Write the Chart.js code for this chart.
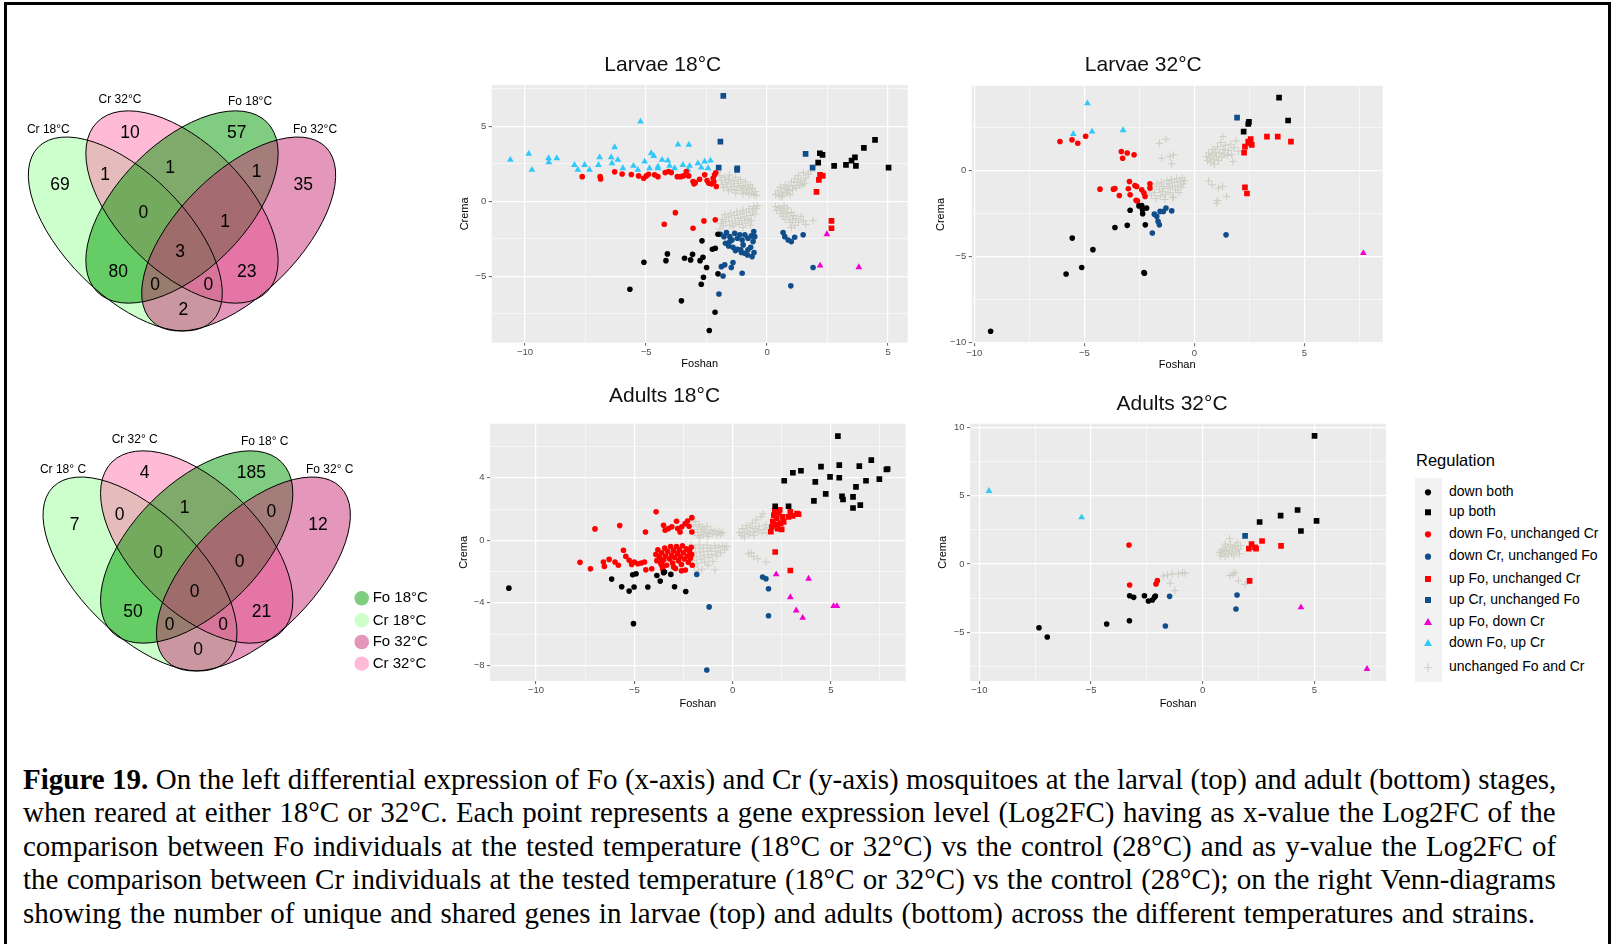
<!DOCTYPE html>
<html>
<head>
<meta charset="utf-8">
<script src="https://cdn.jsdelivr.net/npm/chart.js@4.4.1/dist/chart.umd.min.js"></script>
<style>
  body { margin: 0; width: 1616px; height: 944px; background: #fff; position: relative; overflow: hidden; font-family: 'Liberation Sans', Arial, sans-serif; }
  .frame { position: absolute; left: 4px; top: 2px; width: 1601px; height: 980px; border: 3px solid #000; border-bottom: none; }
  canvas { position: absolute; }
  .caption { position: absolute; left: 23px; top: 762.6px; font-family: 'Liberation Serif', 'Times New Roman', serif; font-size: 29px; line-height: 33.6px; color: #000; }
  .caption .ln { white-space: nowrap; transform-origin: 0 50%; }
  .caption .ln span { display: inline-block; }
  #reg { position: absolute; left: 1390px; top: 440px; }
</style>
</head>
<body>
<div class="frame"></div>
<svg id="reg" width="226" height="260"></svg>
<div class="caption">
  <div class="ln"><span><b>Figure 19.</b> On the left differential expression of Fo (x-axis) and Cr (y-axis) mosquitoes at the larval (top) and adult (bottom) stages,</span></div>
  <div class="ln"><span>when reared at either 18°C or 32°C. Each point represents a gene expression level (Log2FC) having as x-value the Log2FC of the</span></div>
  <div class="ln"><span>comparison between Fo individuals at the tested temperature (18°C or 32°C) vs the control (28°C) and as y-value the Log2FC of</span></div>
  <div class="ln"><span>the comparison between Cr individuals at the tested temperature (18°C or 32°C) vs the control (28°C); on the right Venn-diagrams</span></div>
  <div class="ln"><span>showing the number of unique and shared genes in larvae (top) and adults (bottom) across the different temperatures and strains.</span></div>
</div>
<script>
// ---------------- data ----------------
// venn regions: Cr18, Cr32, Fo18, Fo32, Cr18&Cr32, Cr32&Fo18, Fo18&Fo32, Cr18&Cr32&Fo18, Cr32&Fo18&Fo32,
// all four, Cr18&Fo18, Cr32&Fo32, Cr18&Fo18&Fo32, Cr18&Cr32&Fo32, Cr18&Fo32
const larvaeCounts = [69, 10, 57, 35, 1, 1, 1, 0, 1, 3, 80, 23, 0, 0, 2];
const adultCounts = [7, 4, 185, 12, 0, 1, 0, 0, 0, 0, 50, 21, 0, 0, 0];
const larvaeSetNames = ['Cr 18°C', 'Cr 32°C', 'Fo 18°C', 'Fo 32°C'];
const adultSetNames = ['Cr 18° C', 'Cr 32° C', 'Fo 18° C', 'Fo 32° C'];
const vennLegendNames = ['Fo 18°C', 'Cr 18°C', 'Fo 32°C', 'Cr 32°C'];

const regulationLabels = ['down both', 'up both', 'down Fo, unchanged Cr', 'down Cr, unchanged Fo',
  'up Fo, unchanged Cr', 'up Cr, unchanged Fo', 'up Fo, down Cr', 'down Fo, up Cr', 'unchanged Fo and Cr'];

// Larvae 18°C  [Foshan, Crema]
const l18DownBoth = [[-5.67,-5.87],[-5.09,-4.07],[-4.18,-3.96],[-4.12,-3.51],[-3.54,-6.64],[-3.41,-3.8],[-3.16,-3.91],[-3.08,-3.53],[-2.77,-3.96],[-2.69,-2.64],[-2.65,-3.73],[-2.63,-5.07],[-2.72,-5.53],[-2.5,-4.42],[-2.26,-3.2],[-2.14,-3.13],[-2.15,-7.4],[-2.39,-8.62],[-2.03,-4.84],[-2.03,-2.2]];
const l18UpBoth = [[2.11,2.58],[2.18,3.2],[2.29,3.09],[2.77,2.36],[3.26,2.42],[3.49,2.71],[3.63,2.93],[3.67,2.36],[4.0,3.56],[4.46,4.09],[5.02,2.24]];
const l18DownFo = [[-7.64,1.64],[-6.9,1.64],[-6.88,1.49],[-6.3,1.96],[-5.99,1.82],[-5.61,1.78],[-5.31,1.69],[-5.1,1.53],[-4.99,1.69],[-4.9,1.8],[-4.65,1.76],[-4.51,1.64],[-4.21,1.91],[-4.07,1.98],[-3.96,1.91],[-3.71,1.64],[-3.57,1.64],[-3.46,1.69],[-3.34,1.98],[-3.24,1.69],[-3.06,1.31],[-3.02,1.16],[-2.97,1.24],[-2.79,1.47],[-2.58,1.76],[-2.48,1.38],[-2.41,1.2],[-2.3,1.16],[-2.23,1.53],[-2.17,1.76],[-2.1,0.98],[-2.2,1.3],[-2.12,1.9],[-4.25,-1.53],[-3.79,-0.76],[-3.06,-1.8],[-2.61,-1.31],[-2.14,-1.24]];
const l18DownCr = [[-1.99,-6.18],[-1.82,-4.98],[-1.89,-4.36],[-1.75,-4.24],[-1.48,-4.42],[-1.41,-4.09],[-1.03,-4.8],[0.98,-5.64],[1.9,-4.42],[0.73,-2.36],[0.87,-2.58],[1.0,-2.69],[1.14,-2.4],[1.49,-2.24],[0.66,-2.09],
  [-1.93,-2.2],[-1.68,-2.09],[-1.54,-2.36],[-1.45,-2.58],[-1.34,-2.13],[-1.23,-2.47],[-1.13,-2.24],[-1.03,-2.58],[-0.92,-2.24],[-0.79,-2.47],[-0.65,-2.31],[-0.55,-2.02],[-0.58,-2.69],[-0.68,-3.07],[-0.79,-3.24],[-0.92,-3.47],[-1.09,-3.24],[-1.23,-3.2],[-1.41,-3.07],[-1.59,-2.98],[-1.72,-2.8],[-1.54,-2.69],[-0.99,-2.91],[-0.62,-3.69],[-0.54,-3.42],[-0.81,-3.58],[-1.06,-3.42],[-1.31,-3.29],[-1.78,-2.36],[-0.51,-2.36]];
const l18UpFo = [[2.04,0.62],[2.14,1.42],[2.19,1.76],[2.3,1.69],[2.66,-1.31],[2.66,-1.8]];
const l18UpCr = [[-1.81,7.02],[-1.93,3.98],[-2.0,2.24],[-1.24,2.09],[-1.23,2.2],[1.59,3.16],[1.88,2.24]];
const l18UpFoDownCr = [[2.47,-2.2],[2.19,-4.29],[3.79,-4.4]];
const l18DownFoUpCr = [[-10.61,2.76],[-9.85,3.16],[-9.72,2.09],[-9.03,2.87],[-9.02,2.6],[-8.69,2.87],[-7.96,2.42],[-7.82,2.09],[-7.54,2.42],[-7.34,2.09],[-6.92,2.93],[-6.97,2.42],[-6.44,2.93],[-6.41,2.53],[-6.3,3.6],[-6.17,2.76],[-5.96,2.2],[-5.52,2.36],[-5.34,2.09],[-5.23,5.31],[-5.06,2.64],[-4.86,2.2],[-4.79,3.2],[-4.68,3.02],[-4.51,2.31],[-4.34,2.76],[-4.1,2.71],[-4.03,2.36],[-3.68,3.78],[-3.48,2.42],[-3.23,3.76],[-3.2,2.36],[-2.86,2.53],[-2.72,2.24],[-2.58,2.64],[-2.34,2.71],[-2.44,2.2],[-4.51,2.2],[-3.82,2.2],[-3.27,2.09]];
const l18Unchanged = [[-2.05,1.95],[-1.95,1.7],[-1.9,1.4],[-1.85,1.1],[-1.8,0.9],[-1.75,1.6],[-1.7,1.25],[-1.65,0.95],[-1.6,1.45],[-1.55,1.75],[-1.5,1.15],[-1.45,0.8],[-1.4,1.35],[-1.35,1.0],[-1.3,1.6],[-1.25,0.75],[-1.2,1.2],[-1.15,0.95],[-1.1,1.45],[-1.05,0.7],[-1.0,1.05],[-0.95,0.85],[-0.9,1.3],[-0.85,0.6],[-0.8,0.95],[-0.75,0.75],[-0.7,1.1],[-0.65,0.55],[-0.6,0.85],[-0.55,0.45],[-0.5,0.65],[-0.45,0.4],[-1.6,0.7],[-1.3,0.55],[-1.0,0.5],[-0.75,0.45],
  [-1.95,-1.85],[-1.9,-1.5],[-1.85,-1.2],[-1.8,-1.65],[-1.75,-0.9],[-1.7,-1.35],[-1.6,-1.05],[-1.55,-1.6],[-1.5,-0.8],[-1.45,-1.3],[-1.4,-1.7],[-1.35,-0.95],[-1.3,-1.45],[-1.25,-0.7],[-1.2,-1.15],[-1.15,-1.55],[-1.1,-0.85],[-1.05,-1.3],[-1.0,-0.6],[-0.95,-1.05],[-0.9,-1.45],[-0.85,-0.75],[-0.8,-1.2],[-0.75,-0.5],[-0.7,-0.95],[-0.65,-1.3],[-0.6,-0.65],[-0.55,-0.35],[-0.5,-0.85],[-0.45,-0.5],[-0.4,-0.3],[-1.0,-1.75],[-0.7,-1.6],
  [0.35,0.45],[0.45,0.7],[0.5,0.35],[0.55,0.95],[0.6,0.6],[0.65,0.4],[0.7,0.85],[0.75,1.1],[0.8,0.55],[0.85,0.75],[0.9,1.0],[0.95,0.45],[1.0,1.3],[1.05,0.8],[1.1,1.05],[1.15,1.5],[1.2,0.9],[1.25,1.25],[1.3,1.7],[1.35,1.05],[1.4,1.4],[1.5,1.9],[1.55,1.2],[1.6,1.55],[1.7,1.8],[1.8,2.0],[0.6,0.3],[0.9,0.7],[1.45,1.1],
  [0.35,-0.35],[0.4,-0.6],[0.5,-0.4],[0.55,-0.8],[0.6,-0.5],[0.65,-1.0],[0.7,-0.65],[0.75,-1.2],[0.8,-0.8],[0.85,-0.45],[0.9,-1.05],[0.95,-1.4],[1.0,-0.75],[1.05,-1.25],[1.1,-0.95],[1.15,-1.6],[1.2,-1.15],[1.3,-1.4],[1.4,-1.0],[1.5,-1.3],[1.6,-1.55],[1.9,-1.3],[0.7,-0.3],[1.0,-1.75]];

// Larvae 32°C
const l32DownBoth = [[-9.26,-9.34],[-5.83,-6.02],[-5.12,-5.64],[-5.55,-3.94],[-4.61,-4.61],[-3.61,-3.32],[-3.05,-3.2],[-2.92,-2.32],[-2.52,-2.07],[-2.35,-2.53],[-2.36,-2.3],[-2.23,-3.17],[-2.29,-5.93],[-2.17,-2.2],[-2.39,-2.05],[-2.27,-5.98]];
const l32UpBoth = [[3.85,4.21],[4.26,2.88],[2.48,2.8],[2.45,2.68],[2.24,2.24]];
const l32DownFo = [[-6.11,1.66],[-5.56,1.76],[-5.3,1.56],[-4.94,1.97],[-3.32,1.08],[-3.26,0.69],[-3.05,1.0],[-2.74,0.89],[-4.29,-1.1],[-3.68,-1.1],[-3.61,-1.06],[-3.41,-1.47],[-2.95,-0.66],[-3.0,-1.08],[-2.92,-1.43],[-2.7,-0.89],[-2.62,-0.95],[-2.59,-1.78],[-2.39,-1.14],[-2.29,-1.33],[-2.24,-1.53],[-2.02,-0.79],[-2.02,-1.04],[-2.65,-1.75]];
const l32DownCr = [[-1.91,-3.65],[-1.82,-2.55],[-1.71,-2.68],[-1.65,-2.97],[-1.59,-3.17],[-1.56,-2.39],[-1.41,-2.39],[-1.29,-2.2],[-1.03,-2.36],[1.44,-3.75]];
const l32UpFo = [[2.26,1.02],[2.3,1.37],[2.45,1.66],[2.56,1.8],[2.61,1.47],[2.53,1.56],[3.3,1.95],[3.79,1.95],[4.39,1.66],[2.3,-1.0],[2.39,-1.35]];
const l32UpCr = [[1.94,3.05]];
const l32UpFoDownCr = [[7.68,-4.81]];
const l32DownFoUpCr = [[-4.86,3.88],[-5.5,2.1],[-4.65,2.24],[-3.24,2.32]];
const l32Unchanged = [[-2.05,-1.2],[-1.95,-1.45],[-1.9,-0.95],[-1.8,-1.3],[-1.75,-1.65],[-1.7,-0.8],[-1.6,-1.1],[-1.55,-1.5],[-1.5,-0.7],[-1.45,-1.25],[-1.4,-0.95],[-1.3,-1.4],[-1.25,-0.6],[-1.2,-1.05],[-1.15,-0.8],[-1.1,-1.3],[-1.05,-0.55],[-1.0,-0.95],[-0.95,-1.55],[-0.9,-0.7],[-0.85,-1.15],[-0.8,-0.5],[-0.75,-0.9],[-0.7,-1.3],[-0.65,-0.65],[-0.6,-1.0],[-0.55,-0.45],[-0.5,-0.8],[-0.45,-0.6],[-1.35,-1.7],[-1.0,-1.6],
  [-1.59,1.56],[-1.29,1.8],[-1.48,0.69],[-1.11,0.79],[-0.95,0.89],[-1.03,0.37],
  [0.55,0.8],[0.6,0.55],[0.65,1.0],[0.7,0.7],[0.75,0.45],[0.8,0.9],[0.85,1.2],[0.9,0.6],[0.95,1.05],[1.0,0.8],[1.05,1.35],[1.1,0.55],[1.15,1.0],[1.2,1.6],[1.25,0.75],[1.3,1.2],[1.35,0.95],[1.4,1.45],[1.5,0.85],[1.55,1.15],[1.65,1.5],[1.7,0.9],[1.8,1.3],[1.9,1.7],[2.0,1.1],[1.3,1.95],[1.75,0.5],[0.9,0.35],
  [0.65,-0.62],[0.8,-0.85],[1.09,-1.04],[1.29,-0.95],[1.47,-1.53],[1.02,-1.91],[1.06,-1.76]];

// Adults 18°C
const a18DownBoth = [[-11.38,-3.06],[-6.15,-2.48],[-5.64,-2.97],[-5.26,-3.25],[-5.01,-2.99],[-5.04,-5.33],[-5.08,-2.2],[-4.91,-2.14],[-4.31,-2.99],[-3.85,-2.25],[-3.68,-2.61],[-3.51,-2.07],[-3.46,-2.03],[-3.14,-2.18],[-2.95,-2.97],[-2.38,-3.27]];
const a18UpBoth = [[5.36,6.67],[2.17,2.18],[2.85,2.18],[2.63,3.81],[3.07,4.32],[3.48,4.45],[4.21,3.74],[4.14,2.52],[4.5,4.71],[4.74,2.97],[4.96,4.06],[5.43,4.81],[5.43,4.0],[5.57,2.82],[5.62,2.61],[6.13,2.78],[6.13,2.07],[6.28,3.42],[6.45,4.75],[6.5,2.25],[6.79,3.81],[7.06,5.13],[7.47,3.91],[7.83,4.53],[7.89,4.56]];
const a18DownFo = [[-7.76,-1.41],[-7.23,-1.82],[-7.0,0.73],[-5.74,0.94],[-4.43,0.53],[-3.89,1.82],[-6.57,-1.39],[-6.52,-1.67],[-6.28,-1.22],[-5.98,-1.39],[-5.81,-1.6],[-5.55,-0.64],[-5.43,-1.03],[-5.26,-1.28],[-5.13,-1.54],[-5.0,-1.39],[-4.82,-1.5],[-4.65,-1.45],[-4.48,-1.39],[-4.41,-1.88],[-4.11,-1.82],[-3.74,-1.0],[-3.6,-1.39],[-3.57,-1.67],[-3.51,0.96],[-3.43,0.64],[-3.26,0.75],[-3.09,0.86],[-2.85,1.22],[-2.79,0.75],[-2.58,0.86],[-2.41,1.07],[-2.29,1.24],[-2.21,0.9],[-2.07,1.45],[-2.07,0.53],[-2.67,0.53],
  [-3.9,-0.9],[-3.85,-1.3],[-3.8,-0.6],[-3.7,-1.1],[-3.65,-1.5],[-3.6,-0.8],[-3.5,-1.25],[-3.45,-0.5],[-3.4,-1.0],[-3.35,-1.6],[-3.3,-0.7],[-3.2,-1.2],[-3.15,-0.4],[-3.1,-0.95],[-3.05,-1.45],[-3.0,-0.65],[-2.95,-1.1],[-2.9,-1.8],[-2.85,-0.4],[-2.8,-0.85],[-2.75,-1.3],[-2.7,-0.6],[-2.65,-1.05],[-2.6,-1.55],[-2.55,-0.35],[-2.5,-0.8],[-2.45,-1.2],[-2.4,-1.9],[-2.35,-0.55],[-2.3,-1.0],[-2.25,-1.4],[-2.2,-0.7],[-2.15,-1.15],[-2.1,-0.45],[-2.08,-0.9],[-2.05,-1.6],[-2.6,-1.95],[-3.55,-1.85],[-3.0,-1.7]];
const a18DownCr = [[-1.82,-2.18],[-1.31,-8.3],[-1.19,-4.26],[1.53,-2.35],[1.7,-2.46],[1.83,-3.1],[1.83,-4.83]];
const a18UpFo = [[1.95,0.55],[2.0,0.85],[2.05,1.2],[2.1,1.6],[2.15,1.9],[2.2,1.0],[2.25,1.4],[2.3,0.75],[2.35,1.75],[2.4,1.95],[2.45,1.1],[2.5,0.7],[2.55,1.5],[2.6,1.18],[2.94,1.82],[3.06,1.56],[3.28,1.71],[3.36,1.67],[2.17,-0.75],[2.94,-1.93],[2.85,1.5]];
const a18UpCr = [];
const a18UpFoDownCr = [[2.22,-2.18],[2.94,-3.64],[3.24,-4.49],[3.57,-4.96],[3.87,-2.46],[5.14,-4.21],[5.31,-4.21]];
const a18DownFoUpCr = [];
const a18Unchanged = [[-2.1,1.4],[-2.0,0.9],[-1.95,0.5],[-1.9,1.2],[-1.8,0.7],[-1.75,0.3],[-1.7,1.0],[-1.6,0.55],[-1.55,0.85],[-1.5,0.35],[-1.45,0.7],[-1.35,0.5],[-1.3,0.9],[-1.2,0.4],[-1.1,0.65],[-1.0,0.45],[-0.9,0.6],[-0.8,0.35],[-0.7,0.55],[-0.6,0.4],[-0.5,0.5],[-1.65,0.2],[-1.25,0.25],
  [-2.1,-0.3],[-2.05,-0.8],[-2.0,-1.3],[-1.95,-1.7],[-1.9,-0.5],[-1.85,-1.05],[-1.8,-1.5],[-1.7,-0.3],[-1.65,-0.75],[-1.6,-1.2],[-1.55,-1.85],[-1.5,-0.5],[-1.45,-0.95],[-1.4,-1.4],[-1.3,-0.3],[-1.25,-0.7],[-1.2,-1.1],[-1.1,-0.5],[-1.05,-0.9],[-1.0,-1.35],[-0.9,-0.35],[-0.85,-0.7],[-0.8,-1.0],[-0.7,-0.45],[-0.6,-0.8],[-0.5,-0.35],[-0.4,-0.6],[-0.3,-0.4],[-0.9,-1.9],[-1.25,-1.6],[-1.75,-1.95],
  [0.35,0.5],[0.45,0.3],[0.5,0.75],[0.6,0.45],[0.7,0.95],[0.75,0.6],[0.85,0.35],[0.9,0.8],[1.0,1.1],[1.05,0.5],[1.15,0.75],[1.2,1.3],[1.3,0.6],[1.35,0.9],[1.45,1.5],[1.5,0.45],[1.6,0.7],[1.7,1.0],[1.75,0.5],[1.85,0.8],[1.55,1.7],[0.6,0.2],[1.1,0.3],
  [0.81,-0.86],[1.07,-1.03],[1.29,-1.18],[1.7,-1.39],[0.95,-0.8]];

// Adults 32°C
const a32DownBoth = [[-7.33,-4.66],[-6.96,-5.34],[-4.3,-4.39],[-3.28,-4.15],[-3.27,-2.32],[-3.09,-2.44],[-2.61,-2.32],[-2.43,-2.71],[-2.25,-2.63],[-2.16,-2.44],[-2.12,-2.34]];
const a32UpBoth = [[5.01,9.37],[2.55,3.07],[3.49,3.54],[4.25,3.95],[4.4,2.41],[5.1,3.15]];
const a32DownFo = [[-3.3,1.39],[-3.27,-1.54],[-2.09,-1.46],[-2.03,-1.22]];
const a32DownCr = [[-1.48,-2.37],[-1.67,-4.54],[1.54,-2.27],[1.49,-3.29]];
const a32UpFo = [[2.07,1.12],[2.19,1.46],[2.34,1.22],[2.39,1.12],[2.66,1.68],[3.51,1.32],[2.1,-1.24]];
const a32UpCr = [[1.9,2.05]];
const a32UpFoDownCr = [[4.4,-3.17],[7.36,-7.68]];
const a32DownFoUpCr = [[-9.57,5.34],[-5.42,3.41]];
const a32Unchanged = [[-1.76,-0.88],[-1.58,-0.8],[-1.46,-1.41],[-1.36,-0.73],[-1.24,-1.95],[-1.09,-0.73],[-0.9,-0.63],[-0.79,-0.68],
  [0.75,0.85],[0.8,0.6],[0.85,1.0],[0.9,0.75],[0.95,1.1],[1.0,0.55],[1.05,0.9],[1.1,1.25],[1.15,0.7],[1.2,1.0],[1.25,1.4],[1.3,0.8],[1.35,1.15],[1.4,0.6],[1.45,1.3],[1.5,0.95],[1.55,1.55],[1.6,1.1],[1.65,0.75],[1.7,1.35],[1.2,1.85],[1.0,1.45],
  [1.37,-0.76],[1.45,-0.63],[1.6,-1.24],[1.9,-1.49],[1.22,-0.85]];

// ---------------- look & layout ----------------
const FONT = "'Liberation Sans', Arial, sans-serif";
Chart.defaults.font.family = FONT;

const regulationStyles = [
  { shape: 'circle', r: 2.8, color: '#000000' },
  { shape: 'rect', r: 4.0, color: '#000000' },
  { shape: 'circle', r: 2.8, color: '#ff0000' },
  { shape: 'circle', r: 2.8, color: '#104e8b' },
  { shape: 'rect', r: 4.0, color: '#ff0000' },
  { shape: 'rect', r: 4.0, color: '#104e8b' },
  { shape: 'triangle', r: 3.9, color: '#f000d0' },
  { shape: 'triangle', r: 3.9, color: '#30c8fa' },
  { shape: 'cross', r: 3.8, color: '#cdcdc1' }
];

const panels = [
  { series: [l18DownBoth, l18UpBoth, l18DownFo, l18DownCr, l18UpFo, l18UpCr, l18UpFoDownCr, l18DownFoUpCr, l18Unchanged],
    L: 491.7, T: 85, R: 907.7, B: 342.7, title: 'Larvae 18°C', titleX: 662.8, titleY: 65, yTitleX: 465, xTitleY: 363.7,
    x: { min: -11.38, max: 5.81, step: 2.5, major: 5 }, y: { min: -9.43, max: 7.75, step: 2.5, major: 5 } },
  { series: [l32DownBoth, l32UpBoth, l32DownFo, l32DownCr, l32UpFo, l32UpCr, l32UpFoDownCr, l32DownFoUpCr, l32Unchanged],
    L: 971.7, T: 85.7, R: 1382.7, B: 343.3, title: 'Larvae 32°C', titleX: 1143.3, titleY: 65, yTitleX: 940.7, xTitleY: 365,
    x: { min: -10.12, max: 8.56, step: 2.5, major: 5 }, y: { min: -10.04, max: 4.9, step: 2.5, major: 5 } },
  { series: [a18DownBoth, a18UpBoth, a18DownFo, a18DownCr, a18UpFo, a18UpCr, a18UpFoDownCr, a18DownFoUpCr, a18Unchanged],
    L: 490, T: 423.7, R: 905.7, B: 681, title: 'Adults 18°C', titleX: 664.5, titleY: 396, yTitleX: 464, xTitleY: 704,
    x: { min: -12.34, max: 8.81, step: 2.5, major: 5 }, y: { min: -9.0, max: 7.46, step: 2, major: 4 } },
  { series: [a32DownBoth, a32UpBoth, a32DownFo, a32DownCr, a32UpFo, a32UpCr, a32UpFoDownCr, a32DownFoUpCr, a32Unchanged],
    L: 970, T: 423.7, R: 1386, B: 681, title: 'Adults 32°C', titleX: 1172, titleY: 404, yTitleX: 943.3, xTitleY: 704,
    x: { min: -10.42, max: 8.21, step: 2.5, major: 5 }, y: { min: -8.56, max: 10.26, step: 2.5, major: 5 } }
];

function addCanvas(left, top, w, h) {
  const cv = document.createElement('canvas');
  cv.width = w; cv.height = h;
  cv.style.left = left + 'px'; cv.style.top = top + 'px';
  cv.style.width = w + 'px'; cv.style.height = h + 'px';
  document.body.appendChild(cv);
  return cv;
}

const isMajor = (v, m) => Math.abs(v / m - Math.round(v / m)) < 1e-6;
const fmt = v => v < 0 ? '\u2212' + Math.abs(v) : String(v);

// grey panel + ggplot-like title
const ggPanel = {
  id: 'ggPanel',
  beforeDraw(chart, args, opts) {
    const { ctx, chartArea: a } = chart;
    ctx.save();
    ctx.fillStyle = '#ebebeb';
    ctx.fillRect(a.left, a.top, a.right - a.left, a.bottom - a.top);
    ctx.restore();
  },
  afterDraw(chart, args, opts) {
    const ctx = chart.ctx;
    ctx.save();
    ctx.font = '21px ' + FONT;
    ctx.fillStyle = '#111';
    ctx.textAlign = 'center';
    ctx.textBaseline = 'middle';
    ctx.fillText(opts.text, opts.x, opts.y);
    ctx.restore();
  }
};

function axisOpts(ax, titleText, titlePad, pos) {
  return {
    type: 'linear', position: pos, min: ax.min, max: ax.max,
    ticks: {
      stepSize: ax.step, includeBounds: false, autoSkip: false, maxRotation: 0,
      color: '#4d4d4d', font: { size: 9.5 }, padding: pos === 'left' ? 2.5 : 1,
      callback: v => isMajor(v, ax.major) ? fmt(v) : ''
    },
    grid: {
      color: '#ffffff',
      lineWidth: c => (c.tick && isMajor(c.tick.value, ax.major)) ? 1.2 : 0.55,
      tickLength: 3,
      tickColor: c => (c.tick && isMajor(c.tick.value, ax.major)) ? '#333333' : 'rgba(0,0,0,0)',
      tickWidth: c => (c.tick && isMajor(c.tick.value, ax.major)) ? 0.8 : 0
    },
    border: { display: false },
    title: { display: true, text: titleText, color: '#000', font: { size: 11, lineHeight: 1.2 }, padding: titlePad },
    afterFit: s => { if (pos === 'left') s.width = 45; else s.height = 30; }
  };
}

panels.forEach(p => {
  const YW = 45, XH = 30;
  const cl = Math.floor(p.L - 52), ct = Math.floor(p.T - 45);
  const cw = Math.ceil(p.R + 10) - cl, ch = Math.ceil(p.B + 36) - ct;
  const cv = addCanvas(cl, ct, cw, ch);
  const datasets = p.series.map((pts, i) => {
    const st = regulationStyles[i];
    const stroke = st.shape === 'cross';
    return {
      label: regulationLabels[i],
      data: pts.map(d => ({ x: d[0], y: d[1] })),
      pointStyle: st.shape,
      pointRadius: st.r,
      pointHoverRadius: st.r,
      backgroundColor: stroke ? 'rgba(0,0,0,0)' : st.color,
      borderColor: st.color,
      borderWidth: stroke ? 1 : 0,
      order: stroke ? 20 : i
    };
  });
  new Chart(cv, {
    type: 'scatter',
    data: { datasets },
    options: {
      responsive: false, animation: false, events: [],
      layout: { padding: { left: p.L - cl - YW, top: p.T - ct, right: cl + cw - p.R, bottom: ct + ch - p.B - XH } },
      scales: {
        x: axisOpts(p.x, 'Foshan', { top: 0, bottom: (p.B + XH) - p.xTitleY - 6.6 }, 'bottom'),
        y: axisOpts(p.y, 'Crema', { top: p.yTitleX - (p.L - YW) - 6.6, bottom: 0 }, 'left')
      },
      plugins: {
        legend: { display: false }, tooltip: { enabled: false },
        ggPanel: { text: p.title, x: p.titleX - cl, y: p.titleY - ct }
      }
    },
    plugins: [ggPanel]
  });
});

// ---------------- venn diagrams ----------------
// geometry in px relative to the centre of the two middle ellipses
const vennEllipses = [
  { cx: -56.7, cy: 27, a: 123, b: 60.7, rot: 45, fill: 'rgba(153,255,153,0.5)' },  // Cr 18
  { cx: 0, cy: 0, a: 120, b: 64, rot: 45, fill: 'rgba(255,119,171,0.5)' },         // Cr 32
  { cx: 0, cy: 0, a: 120, b: 64, rot: -45, fill: 'rgba(1,153,1,0.5)' },            // Fo 18
  { cx: 56.7, cy: 27, a: 123, b: 60.7, rot: -45, fill: 'rgba(201,47,119,0.5)' }    // Fo 32
];
const regionPos = [[-122,-22],[-52,-73.7],[54.7,-73.7],[121.3,-22],[-77,-32],[-12,-38.7],[74.7,-35.3],[-38.7,6.3],[43,14.7],[-2,44.7],[-63.7,64.7],[64.7,64.7],[-27,78],[26.3,78],[1.3,103]];
const setNamePos = [[-133.7,-77],[-62,-107],[68,-105.3],[133,-77]];
const legendPos = [[165,51.3],[165,73.4],[165,95],[165,116.7]];
const legendColors = ['#80cc80', '#ccffcc', '#e497bb', '#ffbbd5'];

const vennDecor = {
  id: 'vennDecor',
  beforeDatasetsDraw(chart) {
    const { ctx, scales: { x, y } } = chart;
    const u = x.getPixelForValue(1) - x.getPixelForValue(0);
    ctx.save();
    vennEllipses.forEach(e => {
      ctx.beginPath();
      ctx.ellipse(x.getPixelForValue(e.cx), y.getPixelForValue(e.cy), e.a * u, e.b * u, e.rot * Math.PI / 180, 0, Math.PI * 2);
      ctx.fillStyle = e.fill;
      ctx.fill();
    });
    ctx.strokeStyle = '#000';
    ctx.lineWidth = 1;
    vennEllipses.forEach(e => {
      ctx.beginPath();
      ctx.ellipse(x.getPixelForValue(e.cx), y.getPixelForValue(e.cy), e.a * u, e.b * u, e.rot * Math.PI / 180, 0, Math.PI * 2);
      ctx.stroke();
    });
    ctx.restore();
  },
  afterDatasetsDraw(chart) {
    const ctx = chart.ctx;
    ctx.save();
    ctx.fillStyle = '#000';
    ctx.textBaseline = 'middle';
    chart.data.datasets.forEach((ds, i) => {
      const meta = chart.getDatasetMeta(i);
      ctx.font = ds.textSize + 'px ' + FONT;
      ctx.textAlign = ds.textDx ? 'left' : 'center';
      meta.data.forEach((el, j) => ctx.fillText(ds.data[j].t, el.x + (ds.textDx || 0), el.y));
    });
    ctx.restore();
  }
};

function venn(left, top, w, h, ox, oy, counts, names, withLegend) {
  const cv = addCanvas(left, top, w, h);
  const datasets = [
    { data: regionPos.map((p, i) => ({ x: p[0], y: p[1], t: String(counts[i]) })), pointRadius: 0, borderWidth: 0, textSize: 17.5 },
    { data: setNamePos.map((p, i) => ({ x: p[0], y: p[1], t: names[i] })), pointRadius: 0, borderWidth: 0, textSize: 12 }
  ];
  if (withLegend) {
    datasets.push({
      data: legendPos.map((p, i) => ({ x: p[0], y: p[1], t: vennLegendNames[i] })),
      pointStyle: 'circle', pointRadius: 7.3, backgroundColor: legendColors, borderWidth: 0,
      textSize: 15, textDx: 11
    });
  }
  new Chart(cv, {
    type: 'scatter',
    data: { datasets },
    options: {
      responsive: false, animation: false, events: [],
      layout: { padding: 0, autoPadding: false },
      scales: {
        x: { type: 'linear', display: false, min: left - ox, max: left + w - ox },
        y: { type: 'linear', display: false, reverse: true, min: top - oy, max: top + h - oy }
      },
      plugins: { legend: { display: false }, tooltip: { enabled: false } }
    },
    plugins: [vennDecor]
  });
}
venn(10, 90, 410, 270, 182, 207, larvaeCounts, larvaeSetNames, false);
venn(10, 430, 432, 262, 196.7, 547, adultCounts, adultSetNames, true);

// ---------------- regulation legend ----------------
(function () {
  const svg = document.getElementById('reg');
  const ys = [52.3, 72.3, 94.3, 116.7, 139, 160, 182.3, 203.3, 227.7];
  let s = '<text x="26" y="22" font-size="16.5" dominant-baseline="middle" fill="#000">Regulation</text>';
  s += '<rect x="25" y="38" width="27" height="204" fill="#f2f2f2"/>';
  regulationStyles.forEach((st, i) => {
    const y = ys[i], x = 38;
    if (st.shape === 'circle') s += `<circle cx="${x}" cy="${y}" r="3.1" fill="${st.color}"/>`;
    else if (st.shape === 'rect') s += `<rect x="${x - 3}" y="${y - 3}" width="6" height="6" fill="${st.color}"/>`;
    else if (st.shape === 'triangle') s += `<polygon points="${x},${y - 4.2} ${x + 4},${y + 2.6} ${x - 4},${y + 2.6}" fill="${st.color}"/>`;
    else s += `<path d="M${x - 4.5} ${y}H${x + 4.5}M${x} ${y - 4.5}V${y + 4.5}" stroke="${st.color}" stroke-width="1"/>`;
    s += `<text x="59" y="${y}" font-size="14" dominant-baseline="middle" fill="#000">${regulationLabels[i]}</text>`;
  });
  svg.innerHTML = s;
})();

// ---------------- caption line fitting ----------------
function fitCaption() {
  const lines = [...document.querySelectorAll('.caption .ln')];
  const spans = lines.map(l => l.firstElementChild);
  const target = 1533;
  spans.forEach(sp => { sp.style.wordSpacing = '0px'; });
  const widths = spans.map(sp => sp.offsetWidth);
  const scale = Math.min(1, target / widths[0]);
  const gaps = [];
  spans.forEach((sp, i) => {
    lines[i].style.transform = 'scaleX(' + scale + ')';
    if (i === spans.length - 1) return;
    const n = (sp.textContent.match(/ /g) || []).length;
    const g = (target / scale - widths[i]) / n;
    gaps.push(g);
    sp.style.wordSpacing = g + 'px';
  });
  const avg = gaps.reduce((a, b) => a + b, 0) / gaps.length;
  spans[spans.length - 1].style.wordSpacing = Math.min(avg, 2) + 'px';
}
fitCaption();
if (document.fonts && document.fonts.ready) document.fonts.ready.then(fitCaption);
</script>
</body>
</html>
